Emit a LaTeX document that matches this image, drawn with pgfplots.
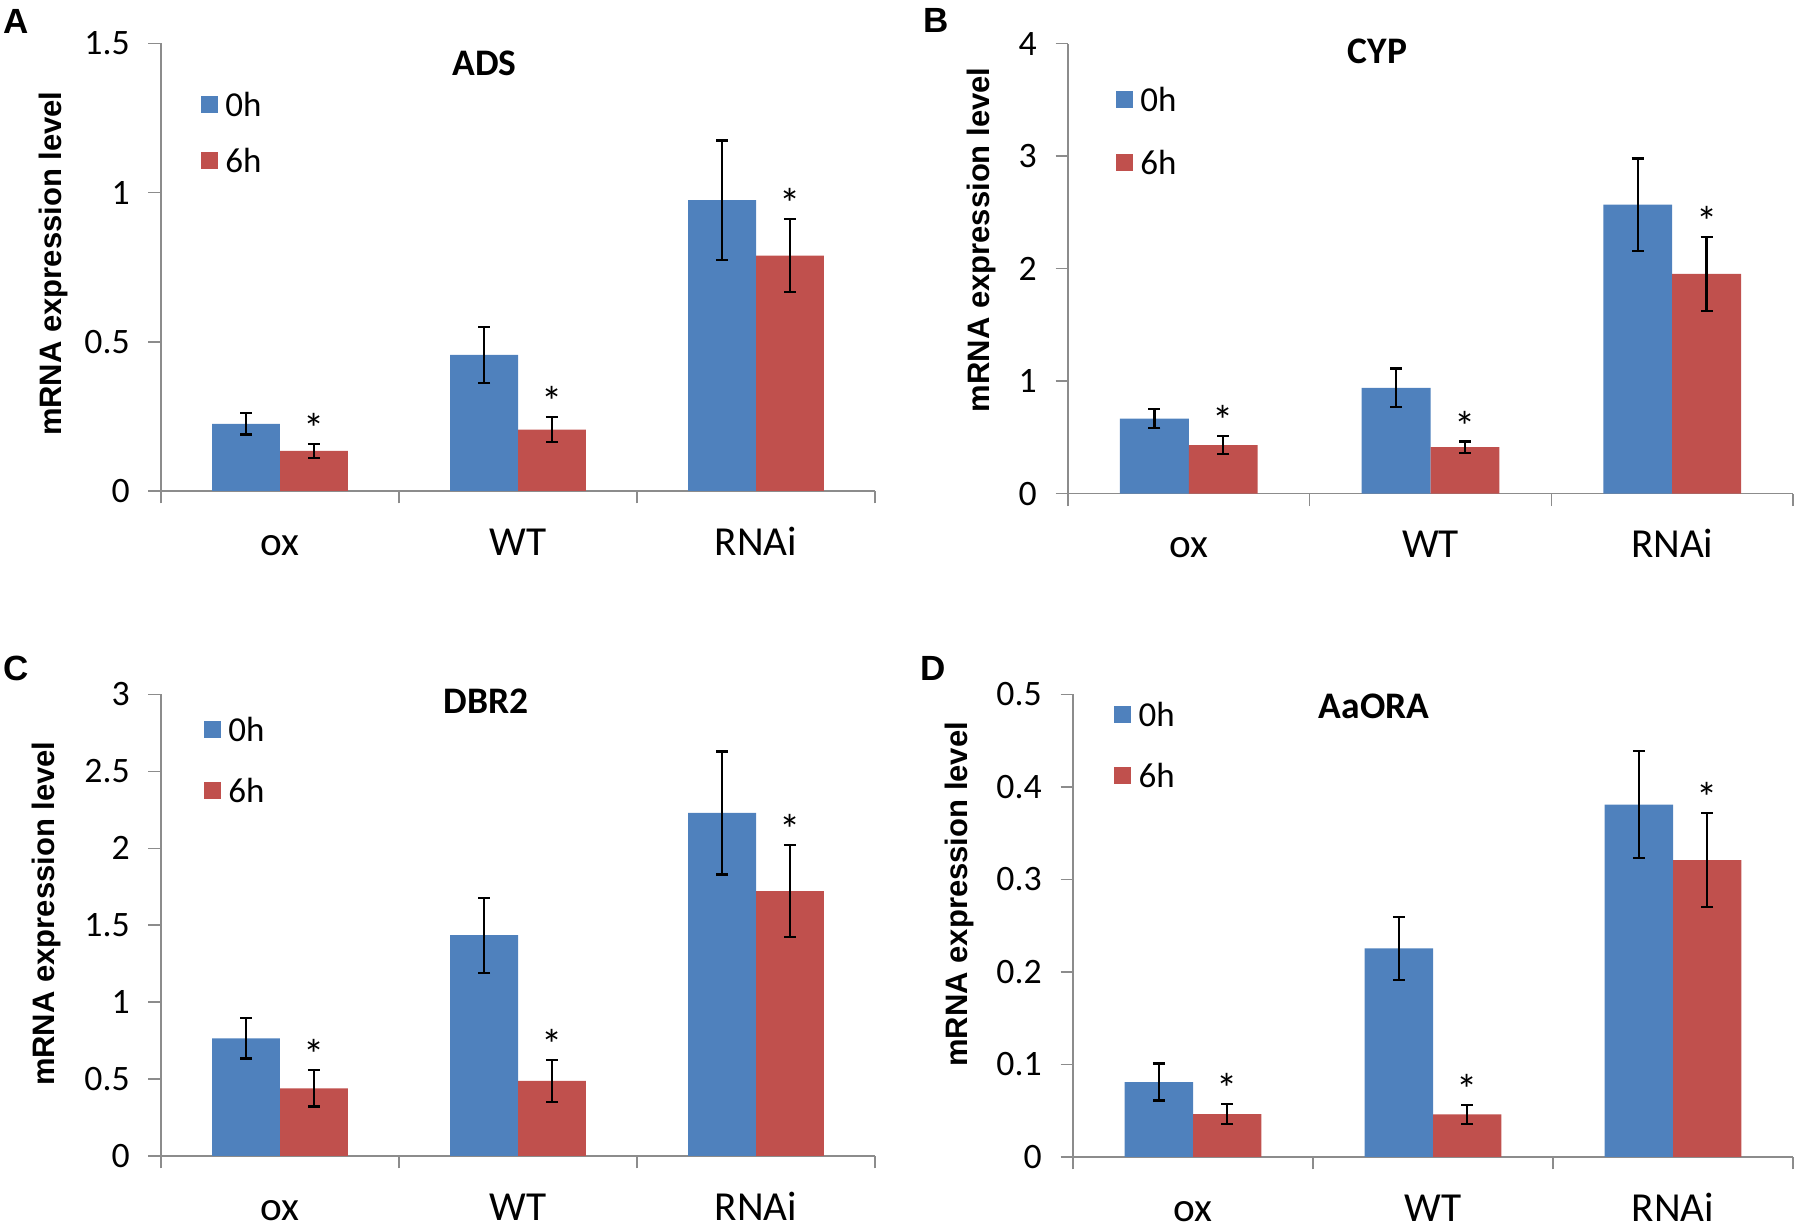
\documentclass[border=0pt]{standalone}
\usepackage{pgfplots}
\pgfplotsset{compat=1.18}
\usepackage{fontspec}
\setmainfont{Carlito}
\newfontfamily\lib{Liberation Sans}
\definecolor{barblue}{HTML}{4F81BD}
\definecolor{barred}{HTML}{C0504D}
\definecolor{axisgray}{HTML}{8C8C8C}
\pgfplotsset{
  panel/.style={
    scale only axis, anchor=south west, clip=false,
    axis x line=bottom, axis y line=left,
    axis line style={-, draw=axisgray, line width=0.6pt},
    tick align=outside, major tick length=5pt,
    tick style={draw=axisgray, line width=0.6pt},
    xmin=-0.5, xmax=2.5, ymin=0,
    xtick={-0.5,0.5,1.5,2.5}, xticklabels={},
    extra x ticks={0,1,2}, extra x tick labels={ox,WT,RNAi},
    extra x tick style={major tick length=0pt, grid=none},
    xticklabel style={font=\fontsize{16.5}{16.5}\selectfont, anchor=base, yshift=-25.7pt},
    yticklabel style={font=\fontsize{14.3}{14.3}\selectfont, xshift=-4pt},
    /pgf/number format/assume math mode=true,
    ylabel={mRNA expression level},
    ylabel style={anchor=center, font=\lib\bfseries\fontsize{12.4}{12.4}\selectfont},
    title style={anchor=center, yshift=-6pt, font=\bfseries\fontsize{15}{15}\selectfont},
    legend cell align=left,
    legend image code/.code={\fill[##1] (0pt,-2.7pt) rectangle (6.8pt,4.1pt);},
    legend style={draw=none, fill=none, inner sep=0pt, outer sep=0pt, anchor=west,
      row sep=11pt, column sep=3pt, font=\fontsize{14}{14}\selectfont, nodes={inner sep=0pt}},
  },
  bb/.style={ybar, bar width=0.285, bar shift=0pt, fill=barblue, draw=none,
    error bars/.cd, y dir=both, y explicit,
    error bar style={line width=0.9pt, black},
    error mark options={rotate=90, mark size=2.4pt, line width=0.9pt, black}},
  br/.style={ybar, bar width=0.285, bar shift=0pt, fill=barred, draw=none,
    error bars/.cd, y dir=both, y explicit,
    error bar style={line width=0.9pt, black},
    error mark options={rotate=90, mark size=2.4pt, line width=0.9pt, black}},
  ast/.style={forget plot, draw=none, mark=none, nodes near coords={*},
    nodes near coords style={anchor=south, inner sep=0pt, font=\fontsize{17}{17}\selectfont, black}},
}
\begin{document}
\begin{tikzpicture}
\path[use as bounding box] (0,0) rectangle (720pt,491.2pt);
% Panel A
\begin{axis}[panel, at={(64.4pt,294.8pt)}, width=285.6pt, height=179pt,
  ymax=1.5, ytick={0,0.5,1,1.5},
  ylabel style={at={(axis description cs:-0.15,0.508)}},
  title={ADS}, title style={at={(axis description cs:0.453,0.956)}},
  legend style={at={(axis description cs:0.056,0.797)}}]
\addplot[bb] coordinates {(-0.1425,0.225) +- (0,0.036) (0.8575,0.456) +- (0,0.093) (1.8575,0.975) +- (0,0.2)};
\addplot[br] coordinates {(0.1425,0.134) +- (0,0.023) (1.1425,0.206) +- (0,0.043) (2.1425,0.789) +- (0,0.122)};
\addplot[ast] coordinates {(0.1425,0.157) (1.1425,0.249) (2.1425,0.911)};
\legend{0h,6h}
\end{axis}
% Panel B
\begin{axis}[panel, at={(427.2pt,293.76pt)}, width=290pt, height=180pt,
  ymax=4, ytick={0,1,2,3,4},
  ylabel style={at={(axis description cs:-0.119,0.564)}},
  title={CYP}, title style={at={(axis description cs:0.427,0.982)}},
  legend style={at={(axis description cs:0.066,0.802)}, row sep=14pt}]
\addplot[bb] coordinates {(-0.1425,0.667) +- (0,0.084) (0.8575,0.94) +- (0,0.171) (1.8575,2.568) +- (0,0.41)};
\addplot[br] coordinates {(0.1425,0.43) +- (0,0.079) (1.1425,0.412) +- (0,0.05) (2.1425,1.953) +- (0,0.33)};
\addplot[ast] coordinates {(0.1425,0.509) (1.1425,0.462) (2.1425,2.283)};
\legend{0h,6h}
\end{axis}
% Panel C
\begin{axis}[panel, at={(64.4pt,28.8pt)}, width=285.6pt, height=184.6pt,
  ymax=3, ytick={0,0.5,1,1.5,2,2.5,3},
  ylabel style={at={(axis description cs:-0.161,0.525)}},
  title={DBR2}, title style={at={(axis description cs:0.455,0.985)}},
  legend style={at={(axis description cs:0.06,0.854)}, row sep=13pt}]
\addplot[bb] coordinates {(-0.1425,0.765) +- (0,0.132) (0.8575,1.435) +- (0,0.244) (1.8575,2.23) +- (0,0.4)};
\addplot[br] coordinates {(0.1425,0.439) +- (0,0.118) (1.1425,0.488) +- (0,0.137) (2.1425,1.722) +- (0,0.3)};
\addplot[ast] coordinates {(0.1425,0.557) (1.1425,0.625) (2.1425,2.022)};
\legend{0h,6h}
\end{axis}
% Panel D
\begin{axis}[panel, at={(429.2pt,28.4pt)}, width=288pt, height=185pt,
  ymax=0.5, ytick={0,0.1,0.2,0.3,0.4,0.5},
  ylabel style={at={(axis description cs:-0.157,0.568)}},
  title={AaORA}, title style={at={(axis description cs:0.418,0.975)}},
  legend style={at={(axis description cs:0.057,0.887)}, row sep=13pt}]
\addplot[bb] coordinates {(-0.1425,0.081) +- (0,0.02) (0.8575,0.2255) +- (0,0.034) (1.8575,0.381) +- (0,0.058)};
\addplot[br] coordinates {(0.1425,0.0464) +- (0,0.0105) (1.1425,0.046) +- (0,0.0105) (2.1425,0.321) +- (0,0.051)};
\addplot[ast] coordinates {(0.1425,0.0569) (1.1425,0.0565) (2.1425,0.372)};
\legend{0h,6h}
\end{axis}
\node[font=\lib\bfseries\fontsize{14}{14}\selectfont] at (6.4pt,482.8pt) {A};
\node[font=\lib\bfseries\fontsize{14}{14}\selectfont] at (374.3pt,482.9pt) {B};
\node[font=\lib\bfseries\fontsize{14}{14}\selectfont] at (6.4pt,224pt) {C};
\node[font=\lib\bfseries\fontsize{14}{14}\selectfont] at (373.3pt,224pt) {D};
\end{tikzpicture}
\end{document}
